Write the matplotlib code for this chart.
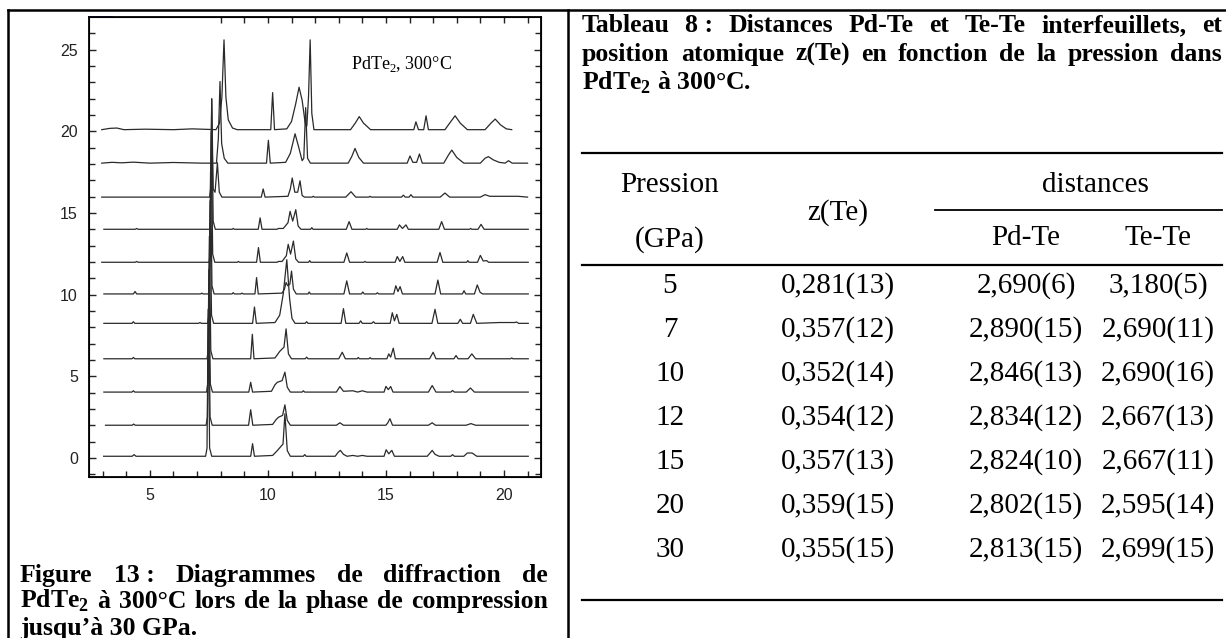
import matplotlib.pyplot as plt
from matplotlib.lines import Line2D

plt.rcParams['mathtext.fontset'] = 'custom'
plt.rcParams['mathtext.rm'] = 'Liberation Serif'
plt.rcParams['mathtext.bf'] = 'Liberation Serif:bold'

# vertical offsets of the stacked patterns (bottom to top)
offsets = [0.1, 2.0, 4.03, 6.07, 8.24, 10.04, 11.98, 14.0, 15.97, 18.05, 20.1]

# patterns as (2theta, intensity above baseline)
trace_00 = [(3.04, 0), (4.25, 0), (4.33, 0.1), (4.41, 0), (7.36, 0), (7.42, 0.5), (7.47, 9.0), (7.53, 0.5),
            (7.62, 0), (9.27, 0), (9.35, 0.77), (9.43, 0), (10.2, 0.05), (10.4, 0.35), (10.52, 0.55),
            (10.64, 0.75), (10.72, 2.6), (10.82, 0.35), (10.95, 0), (11.5, 0), (11.56, 0.1), (11.62, 0),
            (12.85, 0), (12.98, 0.25), (13.07, 0.36), (13.2, 0.12), (13.35, 0), (13.6, 0.05), (13.8, 0),
            (14.0, 0.05), (14.2, 0), (14.92, 0), (15.01, 0.4), (15.12, 0.15), (15.25, 0.36), (15.36, 0),
            (16.75, 0), (16.9, 0.25), (16.96, 0.36), (17.08, 0.12), (17.25, 0), (17.75, 0), (17.82, 0.1),
            (17.9, 0), (18.3, 0), (18.45, 0.2), (18.65, 0.2), (18.85, 0), (21.03, 0)]
trace_02 = [(3.12, 0), (4.25, 0), (4.31, 0.07), (4.38, 0), (7.38, 0), (7.44, 0.5), (7.49, 7.5), (7.55, 0.5),
            (7.64, 0), (9.18, 0), (9.27, 0.95), (9.36, 0), (10.2, 0.05), (10.35, 0.35), (10.46, 0.5),
            (10.62, 0.6), (10.72, 1.25), (10.82, 0.3), (10.95, 0), (12.9, 0), (13.05, 0.15), (13.2, 0),
            (15.0, 0), (15.08, 0.15), (15.17, 0.4), (15.28, 0), (16.8, 0), (16.96, 0.15), (17.1, 0),
            (18.4, 0), (18.6, 0.1), (18.8, 0), (21.03, 0)]
trace_04 = [(3.05, 0), (4.24, 0), (4.3, 0.08), (4.36, 0), (7.4, 0), (7.45, 0.5), (7.5, 7.5), (7.56, 0.5),
            (7.65, 0), (9.19, 0), (9.27, 0.6), (9.35, 0), (10.15, 0.05), (10.3, 0.45), (10.4, 0.6),
            (10.6, 0.7), (10.72, 1.22), (10.82, 0.3), (10.95, 0), (11.45, 0), (11.5, 0.08), (11.56, 0),
            (12.9, 0), (13.05, 0.34), (13.2, 0.05), (13.6, 0.08), (13.8, 0), (14.0, 0.08), (14.2, 0),
            (14.92, 0), (15.0, 0.35), (15.1, 0.15), (15.2, 0.34), (15.3, 0), (16.8, 0), (16.96, 0.4),
            (17.12, 0), (17.75, 0), (17.82, 0.1), (17.9, 0), (18.4, 0), (18.58, 0.25), (18.75, 0),
            (21.03, 0)]
trace_06 = [(3.05, 0), (4.24, 0), (4.3, 0.08), (4.36, 0), (7.42, 0), (7.47, 0.5), (7.52, 7.5), (7.58, 0.5),
            (7.67, 0), (9.27, 0), (9.34, 1.5), (9.41, 0), (10.3, 0.05), (10.5, 0.45), (10.6, 0.6),
            (10.68, 0.7), (10.77, 1.83), (10.87, 0.3), (11.0, 0), (11.58, 0), (11.64, 0.1), (11.7, 0),
            (13.0, 0), (13.15, 0.4), (13.28, 0), (13.78, 0), (13.83, 0.08), (13.88, 0), (14.28, 0),
            (14.33, 0.07), (14.38, 0), (15.04, 0), (15.12, 0.3), (15.2, 0.1), (15.31, 0.65), (15.4, 0),
            (16.85, 0), (17.0, 0.4), (17.12, 0), (17.88, 0), (17.97, 0.2), (18.06, 0), (18.48, 0),
            (18.64, 0.3), (18.8, 0), (20.28, 0), (20.33, 0.05), (20.38, 0), (21.03, 0)]
trace_08 = [(3.05, 0), (4.24, 0), (4.3, 0.1), (4.36, 0), (7.06, 0), (7.12, 0.05), (7.18, 0), (7.45, 0),
            (7.5, 0.5), (7.55, 7.5), (7.61, 0.5), (7.7, 0), (9.35, 0), (9.43, 1.0), (9.51, 0), (10.3, 0.05),
            (10.5, 0.5), (10.65, 1.8), (10.8, 3.9), (10.92, 1.5), (11.02, 0.3), (11.15, 0), (11.58, 0),
            (11.64, 0.1), (11.7, 0), (13.1, 0), (13.2, 0.9), (13.3, 0), (13.86, 0), (13.93, 0.15),
            (14.0, 0), (14.4, 0), (14.47, 0.1), (14.54, 0), (15.18, 0), (15.27, 0.65), (15.36, 0.15),
            (15.46, 0.55), (15.56, 0), (16.95, 0), (17.08, 0.86), (17.2, 0), (18.05, 0), (18.15, 0.25),
            (18.25, 0), (18.58, 0), (18.7, 0.55), (18.85, 0), (19.8, 0.05), (20.45, 0.05),
            (20.54, 0.08), (20.62, 0), (21.03, 0)]
trace_10 = [(3.05, 0), (4.3, 0), (4.37, 0.15), (4.44, 0), (7.15, 0), (7.2, 0.05), (7.25, 0), (7.48, 0),
            (7.52, 0.5), (7.57, 7.5), (7.63, 0.5), (7.72, 0), (8.48, 0), (8.53, 0.08), (8.58, 0),
            (8.85, 0), (8.9, 0.05), (8.95, 0), (9.45, 0), (9.52, 1.0), (9.59, 0), (10.6, 0.05),
            (10.7, 0.3), (10.77, 0.7), (10.84, 0.5), (10.93, 0.6), (11.0, 1.4), (11.08, 0.3),
            (11.2, 0), (11.7, 0), (11.75, 0.12), (11.8, 0), (13.22, 0), (13.34, 0.8), (13.46, 0),
            (13.96, 0), (14.02, 0.12), (14.08, 0), (14.58, 0), (14.64, 0.07), (14.7, 0), (15.33, 0),
            (15.42, 0.5), (15.51, 0.15), (15.6, 0.45), (15.7, 0), (17.08, 0), (17.2, 0.85), (17.32, 0),
            (18.24, 0), (18.31, 0.2), (18.38, 0), (18.75, 0), (18.87, 0.55), (18.99, 0.1), (19.1, 0),
            (21.03, 0)]
trace_12 = [(2.96, 0), (4.38, 0), (4.44, 0.05), (4.5, 0), (7.51, 0), (7.55, 0.5), (7.6, 8.0), (7.66, 0.5),
            (7.75, 0), (8.7, 0), (8.75, 0.05), (8.8, 0), (9.52, 0), (9.6, 0.9), (9.68, 0), (10.39, 0),
            (10.44, 0.05), (10.6, 0.05), (10.78, 0.4), (10.86, 1.1), (10.96, 0.5), (11.08, 1.3),
            (11.18, 0.2), (11.3, 0), (11.72, 0), (11.77, 0.1), (11.82, 0), (13.22, 0), (13.34, 0.57),
            (13.46, 0), (14.06, 0), (14.11, 0.05), (14.16, 0), (15.39, 0), (15.48, 0.35), (15.59, 0.05),
            (15.71, 0.35), (15.8, 0), (17.17, 0), (17.29, 0.6), (17.41, 0), (18.42, 0), (18.47, 0.1),
            (18.52, 0), (18.88, 0), (19.0, 0.42), (19.12, 0.08), (19.27, 0.1), (19.35, 0), (21.03, 0)]
trace_14 = [(3.05, 0), (4.38, 0), (4.44, 0.05), (4.5, 0), (7.53, 0), (7.57, 0.5), (7.62, 8.0), (7.68, 0.5),
            (7.77, 0), (8.48, 0), (8.53, 0.05), (8.58, 0), (9.59, 0), (9.67, 0.7), (9.75, 0),
            (10.39, 0), (10.44, 0.05), (10.65, 0.05), (10.85, 0.4), (10.94, 1.1), (11.05, 0.5),
            (11.18, 1.2), (11.28, 0.2), (11.4, 0), (11.81, 0), (11.86, 0.1), (11.91, 0), (13.32, 0),
            (13.44, 0.47), (13.56, 0), (14.14, 0), (14.19, 0.05), (14.24, 0), (15.48, 0), (15.57, 0.27),
            (15.7, 0.05), (15.85, 0.27), (15.95, 0), (17.24, 0), (17.36, 0.47), (17.48, 0), (18.54, 0),
            (18.59, 0.05), (18.64, 0), (18.9, 0), (19.03, 0.3), (19.16, 0), (21.03, 0)]
trace_16 = [(2.96, 0), (7.53, 0), (7.57, 0.5), (7.62, 6.0), (7.68, 0.5), (7.76, 0.3), (7.86, 2.1),
            (7.94, 0.3), (8.05, 0), (9.72, 0), (9.8, 0.5), (9.88, 0), (10.85, 0.05), (10.95, 0.5),
            (11.03, 1.17), (11.14, 0.3), (11.26, 0.3), (11.36, 1.0), (11.45, 0.1), (11.55, 0),
            (11.87, 0), (11.92, 0.05), (11.97, 0), (13.3, 0), (13.52, 0.33), (13.72, 0), (14.28, 0),
            (14.33, 0.05), (14.38, 0), (15.66, 0), (15.74, 0.12), (15.82, 0), (15.98, 0),
            (16.06, 0.15), (16.14, 0), (17.3, 0), (17.5, 0.25), (17.7, 0), (19.0, 0), (19.2, 0.15),
            (19.4, 0.05), (20.0, 0.05), (20.6, 0.05), (21.0, 0)]
trace_18 = [(2.96, 0), (3.4, 0.05), (3.8, 0.02), (4.3, 0.06), (5.0, 0), (6.0, 0.04), (7.2, 0), (7.82, 0),
            (7.9, 1.5), (7.97, 5.0), (8.04, 1.2), (8.15, 0.3), (8.3, 0), (9.94, 0), (10.02, 1.4),
            (10.1, 0), (10.75, 0.05), (10.95, 0.6), (11.15, 1.8), (11.3, 1.0), (11.45, 0.15),
            (11.52, 0.3), (11.6, 3.4), (11.68, 0.3), (11.8, 0), (13.4, 0), (13.55, 0.4), (13.69, 0.9),
            (13.85, 0.35), (14.05, 0), (15.9, 0), (16.02, 0.44), (16.14, 0.05), (16.3, 0.05),
            (16.42, 0.56), (16.54, 0), (17.45, 0), (17.65, 0.5), (17.79, 0.8), (18.0, 0.35),
            (18.3, 0), (19.0, 0), (19.2, 0.3), (19.34, 0.4), (19.55, 0.2), (19.8, 0.05), (20.05, 0),
            (20.19, 0.15), (20.35, 0), (21.0, 0)]
trace_20 = [(2.96, 0), (3.3, 0.08), (3.6, 0.1), (3.9, 0), (4.8, 0.03), (6.0, 0), (6.8, 0.05), (7.4, 0.02),
            (7.8, 0), (7.95, 0.4), (8.05, 2.0), (8.14, 5.5), (8.22, 2.0), (8.32, 0.6), (8.5, 0.1),
            (8.7, 0), (10.12, 0), (10.2, 2.27), (10.28, 0), (10.8, 0.05), (11.0, 0.5), (11.18, 1.6),
            (11.32, 2.6), (11.45, 1.8), (11.58, 0.4), (11.65, 0.23), (11.72, 2.0), (11.79, 5.5),
            (11.86, 1.0), (11.95, 0), (13.5, 0), (13.7, 0.4), (13.87, 0.8), (14.05, 0.4), (14.35, 0),
            (16.18, 0), (16.27, 0.48), (16.38, 0), (16.6, 0), (16.7, 0.85), (16.8, 0), (17.5, 0),
            (17.75, 0.5), (17.93, 0.85), (18.15, 0.4), (18.45, 0), (19.2, 0), (19.45, 0.4),
            (19.63, 0.65), (19.85, 0.3), (20.1, 0.05), (20.33, 0)]
traces = [trace_00, trace_02, trace_04, trace_06, trace_08, trace_10,
          trace_12, trace_14, trace_16, trace_18, trace_20]

# table 8 content
col_head = ['Pression', '(GPa)', 'z(Te)', 'distances', 'Pd-Te', 'Te-Te']
pressions = ['5', '7', '10', '12', '15', '20', '30']
z_te = ['0,281(13)', '0,357(12)', '0,352(14)', '0,354(12)', '0,357(13)', '0,359(15)', '0,355(15)']
pd_te = ['2,690(6)', '2,890(15)', '2,846(13)', '2,834(12)', '2,824(10)', '2,802(15)', '2,813(15)']
te_te = ['3,180(5)', '2,690(11)', '2,690(16)', '2,667(13)', '2,667(11)', '2,595(14)', '2,699(15)']

# justified lines, one list entry per word (the French " :" does not stretch)
caption_1 = ['Figure', '13 :', 'Diagrammes', 'de', 'diffraction', 'de']
caption_2 = [r'PdTe$_\mathbf{2}$', 'à', '300°C', 'lors', 'de', 'la', 'phase', 'de', 'compression']
caption_3 = 'jusqu’à 30 GPa.'
title_1 = ['Tableau', '8 :', 'Distances', 'Pd-Te', 'et', 'Te-Te', 'interfeuillets,', 'et']
title_2 = ['position', 'atomique', 'z(Te)', 'en', 'fonction', 'de', 'la', 'pression', 'dans']
title_3 = r'PdTe$_\mathbf{2}$ à 300°C.'

W, H = 1226, 638
fig = plt.figure(figsize=(W / 100, H / 100), dpi=100)


def fx(px):
    return px / W


def fy(py):
    return 1 - py / H


def hline(x0, x1, y, lw=1.5):
    fig.add_artist(Line2D([fx(x0), fx(x1)], [fy(y), fy(y)], color='black', lw=lw))


def vline(x, y0, y1, lw=1.8):
    fig.add_artist(Line2D([fx(x), fx(x)], [fy(y0), fy(y1)], color='black', lw=lw))


# page frame
hline(8, W, 10, 1.8)
vline(8, 10, H)
vline(568, 10, H)

# diffraction plot
ax = fig.add_axes([fx(89), fy(477), fx(541) - fx(89), fy(17) - fy(477)])
for off, pts in zip(offsets, traces):
    ax.plot([p[0] for p in pts], [off + p[1] for p in pts], color='#2a2a2a', lw=0.9)
ax.set_xlim(2.42, 21.57)
ax.set_ylim(-1.17, 27.0)
ax.set_xticks([5, 10, 15, 20])
ax.set_xticks(range(3, 22), minor=True)
ax.set_yticks([0, 5, 10, 15, 20, 25])
ax.set_yticks(range(-1, 27), minor=True)
ax.tick_params(which='both', direction='in', top=False, right=True, width=1, colors='#222',
               labelsize=11.5, pad=8)
ax.tick_params(which='major', length=5)
ax.tick_params(which='minor', length=4.5)
for lab in ax.get_xticklabels() + ax.get_yticklabels():
    lab.set_family('Liberation Sans')
for s in ax.spines.values():
    s.set_linewidth(1.3)
ax_top = ax.twiny()
ax_top.set_xlim(ax.get_xlim())
ax_top.set_xticks(range(8, 22))
ax_top.tick_params(direction='in', length=4.5, width=1, labeltop=False, colors='#222')
ax.plot([0, 0.05], [1, 1], transform=ax.transAxes, color='#2030ff', lw=1.3, clip_on=False)
ax.text(13.5, 24.1, r'PdTe$_2$, 300°C', family='Liberation Serif', fontsize=13, va='center')

renderer = fig.canvas.get_renderer()
SERIF = 'Liberation Serif'


def justify(words, x0, x1, y, size):
    arts = [fig.text(0, fy(y), w, fontsize=size, family=SERIF, weight='bold',
                     va='baseline') for w in words]
    widths = [a.get_window_extent(renderer).width for a in arts]
    gap = (x1 - x0 - sum(widths)) / (len(words) - 1)
    x = x0
    for a, w in zip(arts, widths):
        a.set_x(fx(x))
        x += w + gap


# caption under the plot
justify(caption_1, 20, 548, 582, 18.5)
justify(caption_2, 20, 548, 608, 18.5)
fig.text(fx(20), fy(635), caption_3, fontsize=18.5, family=SERIF, weight='bold', va='baseline')

# table title
justify(title_1, 582, 1222, 32, 18.5)
justify(title_2, 582, 1222, 61, 18.5)
fig.text(fx(582), fy(90), title_3, fontsize=18.5, family=SERIF, weight='bold', va='baseline')

# table body
tkw = dict(fontsize=21, family=SERIF, ha='center', va='center')
hline(582, 1222, 153, 1.6)
fig.text(fx(670), fy(185), col_head[0], **tkw)
fig.text(fx(670), fy(240), col_head[1], **tkw)
fig.text(fx(838), fy(213), col_head[2], **tkw)
fig.text(fx(1095), fy(185), col_head[3], **tkw)
hline(935, 1222, 210, 1.3)
fig.text(fx(1026), fy(238), col_head[4], **tkw)
fig.text(fx(1158), fy(238), col_head[5], **tkw)
hline(582, 1222, 265, 1.6)
for i in range(len(pressions)):
    y = 286 + 44 * i
    fig.text(fx(670), fy(y), pressions[i], **tkw)
    fig.text(fx(838), fy(y), z_te[i], **tkw)
    fig.text(fx(1026), fy(y), pd_te[i], **tkw)
    fig.text(fx(1158), fy(y), te_te[i], **tkw)
hline(582, 1222, 600, 1.6)

fig.savefig('out.png', dpi=100)
